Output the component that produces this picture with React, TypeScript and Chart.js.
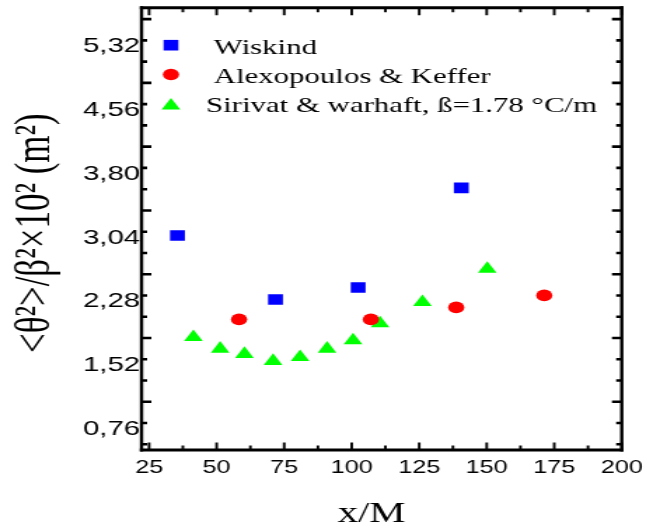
import React, { useEffect, useRef } from 'react';
import { Chart, registerables } from 'chart.js';
import { drawPoint } from 'chart.js/helpers';

Chart.register(...registerables);

// ---- data ----
const wiskindX = [35.5, 71.8, 102.4, 140.6];
const wiskindY = [2.995, 2.233, 2.376, 3.562];
const alexX = [58.3, 107.1, 138.7, 171.3];
const alexY = [1.995, 1.995, 2.138, 2.281];
const sirivatX = [41.4, 51.3, 60.3, 70.9, 80.9, 90.9, 100.5, 110.5, 126.2, 150.2];
const sirivatY = [1.784, 1.645, 1.582, 1.499, 1.546, 1.645, 1.745, 1.947, 2.201, 2.597];

const seriesLabels = [' Wiskind', ' Alexopoulos & Keffer', 'Sirivat & warhaft, ß=1.78 °C/m'];
const xTickValues = [25, 50, 75, 100, 125, 150, 175, 200];
const yTickValues = [0.76, 1.52, 2.28, 3.04, 3.8, 4.56, 5.32];
const xTitle = 'x/M  ';
const yTitle = '<θ²>/β²×10² (m²) ';

const X_MIN = 22.2;
const X_MAX = 200;
const Y_MIN = 0.439;
const Y_MAX = 5.709;

const CANVAS_W = 461; // internal width, stretched to 646 by CSS
const CANVAS_H = 529;

const framePlugin = {
  id: 'frame',
  beforeDatasetsDraw(chart: any) {
    const { ctx, chartArea, scales } = chart;
    const { left, right, top, bottom } = chartArea;
    const x = scales.x;
    const y = scales.y;
    ctx.save();
    ctx.strokeStyle = '#000';
    ctx.lineCap = 'butt';
    ctx.lineWidth = 3;
    ctx.beginPath();
    ctx.moveTo(left - 1.2, top);
    ctx.lineTo(right + 1.2, top);
    ctx.moveTo(left - 1.2, bottom);
    ctx.lineTo(right + 1.2, bottom);
    ctx.stroke();
    ctx.lineWidth = 2.4;
    ctx.beginPath();
    ctx.moveTo(left, top - 1.5);
    ctx.lineTo(left, bottom + 1.5);
    ctx.moveTo(right, top - 1.5);
    ctx.lineTo(right, bottom + 1.5);
    ctx.stroke();
    ctx.lineWidth = 1.9;
    ctx.beginPath();
    for (let i = 0; i < xTickValues.length; i++) {
      const v = xTickValues[i];
      const px = x.getPixelForValue(v);
      ctx.moveTo(px, bottom);
      ctx.lineTo(px, bottom - 7.5);
      ctx.moveTo(px, top);
      ctx.lineTo(px, top + 7.5);
      if (i < xTickValues.length - 1) {
        const m = (v + xTickValues[i + 1]) / 2;
        const pm = x.getPixelForValue(m);
        ctx.moveTo(pm, bottom);
        ctx.lineTo(pm, bottom - 4.5);
        ctx.moveTo(pm, top);
        ctx.lineTo(pm, top + 4.5);
      }
    }
    ctx.stroke();
    ctx.lineWidth = 2.6;
    ctx.beginPath();
    const step = 0.76 / 3;
    const yTickSet: { v: number; len: number }[] = [];
    for (const v of yTickValues) {
      yTickSet.push({ v, len: 4 });
      yTickSet.push({ v: v - step, len: 4 });
      yTickSet.push({ v: v + step, len: 7 });
    }
    for (const t of yTickSet) {
      if (t.v <= Y_MIN || t.v >= Y_MAX) continue;
      const py = y.getPixelForValue(t.v);
      ctx.moveTo(left, py);
      ctx.lineTo(left + t.len, py);
      ctx.moveTo(right, py);
      ctx.lineTo(right - t.len, py);
    }
    ctx.stroke();
    ctx.restore();
  },
};

const legendPlugin = {
  id: 'insideLegend',
  afterDatasetsDraw(chart: any) {
    const { ctx, chartArea } = chart;
    const markerX = chartArea.left + 21;
    const textX = chartArea.left + 46;
    const baseline0 = chartArea.top + 46;
    const rowGap = 29.3;
    ctx.save();
    chart.data.datasets.forEach((ds: any, i: number) => {
      const base = baseline0 + i * rowGap;
      const markerY = base - 8.5 + (ds.pointStyle === 'triangle' ? 1.9 : 0);
      ctx.fillStyle = ds.backgroundColor;
      ctx.strokeStyle = ds.backgroundColor;
      drawPoint(ctx, { pointStyle: ds.pointStyle, radius: ds.pointRadius, rotation: 0, borderWidth: 0 } as any, markerX, markerY);
      ctx.fillStyle = '#000';
      ctx.font = '22px "Liberation Serif", "Times New Roman", serif';
      ctx.textAlign = 'left';
      ctx.textBaseline = 'alphabetic';
      ctx.fillText(ds.label, textX, base);
    });
    ctx.restore();
  },
};

export default function App() {
  const ref = useRef<HTMLCanvasElement>(null);

  useEffect(() => {
    const canvas = ref.current;
    if (!canvas) return;
    const chart = new Chart(canvas, {
      type: 'scatter',
      data: {
        datasets: [
          {
            label: seriesLabels[0],
            data: wiskindX.map((x, i) => ({ x, y: wiskindY[i] })),
            pointStyle: 'rect',
            pointRadius: 7.5,
            backgroundColor: '#0000ff',
            borderColor: '#0000ff',
            borderWidth: 0,
          },
          {
            label: seriesLabels[1],
            data: alexX.map((x, i) => ({ x, y: alexY[i] })),
            pointStyle: 'circle',
            pointRadius: 5.8,
            backgroundColor: '#ff0000',
            borderColor: '#ff0000',
            borderWidth: 0,
          },
          {
            label: seriesLabels[2],
            data: sirivatX.map((x, i) => ({ x, y: sirivatY[i] })),
            pointStyle: 'triangle',
            pointRadius: 7.7,
            backgroundColor: '#00ff00',
            borderColor: '#00ff00',
            borderWidth: 0,
          },
        ],
      } as any,
      options: {
        animation: false,
        responsive: false,
        devicePixelRatio: 1,
        events: [],
        layout: { padding: { left: 0, top: 7.3, right: 17.3, bottom: 0 } },
        plugins: { legend: { display: false }, tooltip: { enabled: false } },
        scales: {
          x: {
            type: 'linear',
            min: X_MIN,
            max: X_MAX,
            grid: { display: false, drawTicks: false },
            border: { display: false },
            afterBuildTicks: (s: any) => {
              s.ticks = xTickValues.map((v) => ({ value: v }));
            },
            ticks: {
              font: { family: '"Liberation Sans", Arial, sans-serif', size: 18 },
              color: '#000',
              padding: 7,
              maxRotation: 0,
              autoSkip: false,
              callback: (v: any) => String(v),
            },
            title: {
              display: true,
              text: xTitle,
              color: '#000',
              font: { family: '"Liberation Serif", "Times New Roman", serif', size: 29, lineHeight: 1 },
              padding: { top: 0, bottom: 0 },
            },
            afterFit: (s: any) => {
              s.height = 79;
              s.paddingLeft = 0;
              s.paddingRight = 0;
              s.paddingTop = 0;
              s.paddingBottom = 0;
            },
          },
          y: {
            type: 'linear',
            min: Y_MIN,
            max: Y_MAX,
            grid: { display: false, drawTicks: false },
            border: { display: false },
            afterBuildTicks: (s: any) => {
              s.ticks = yTickValues.map((v) => ({ value: v }));
            },
            ticks: {
              font: { family: '"Liberation Sans", Arial, sans-serif', size: 21 },
              color: '#000',
              padding: 1,
              labelOffset: 6,
              autoSkip: false,
              callback: (v: any) => Number(v).toFixed(2).replace('.', ','),
            },
            title: {
              display: true,
              text: yTitle,
              color: '#000',
              font: { family: '"Liberation Serif", "Times New Roman", serif', size: 35 },
              padding: { top: 5, bottom: 0 },
            },
            afterFit: (s: any) => {
              s.width = 101;
              s.paddingLeft = 0;
              s.paddingRight = 0;
              s.paddingTop = 0;
              s.paddingBottom = 0;
            },
          },
        },
      } as any,
      plugins: [framePlugin, legendPlugin],
    });
    return () => chart.destroy();
  }, []);

  return (
    <div style={{ position: 'fixed', left: 0, top: 0, width: 646, height: 529, background: '#fff' }}>
      <canvas
        ref={ref}
        width={CANVAS_W}
        height={CANVAS_H}
        style={{ width: '646px', height: '529px', display: 'block' }}
      />
    </div>
  );
}
